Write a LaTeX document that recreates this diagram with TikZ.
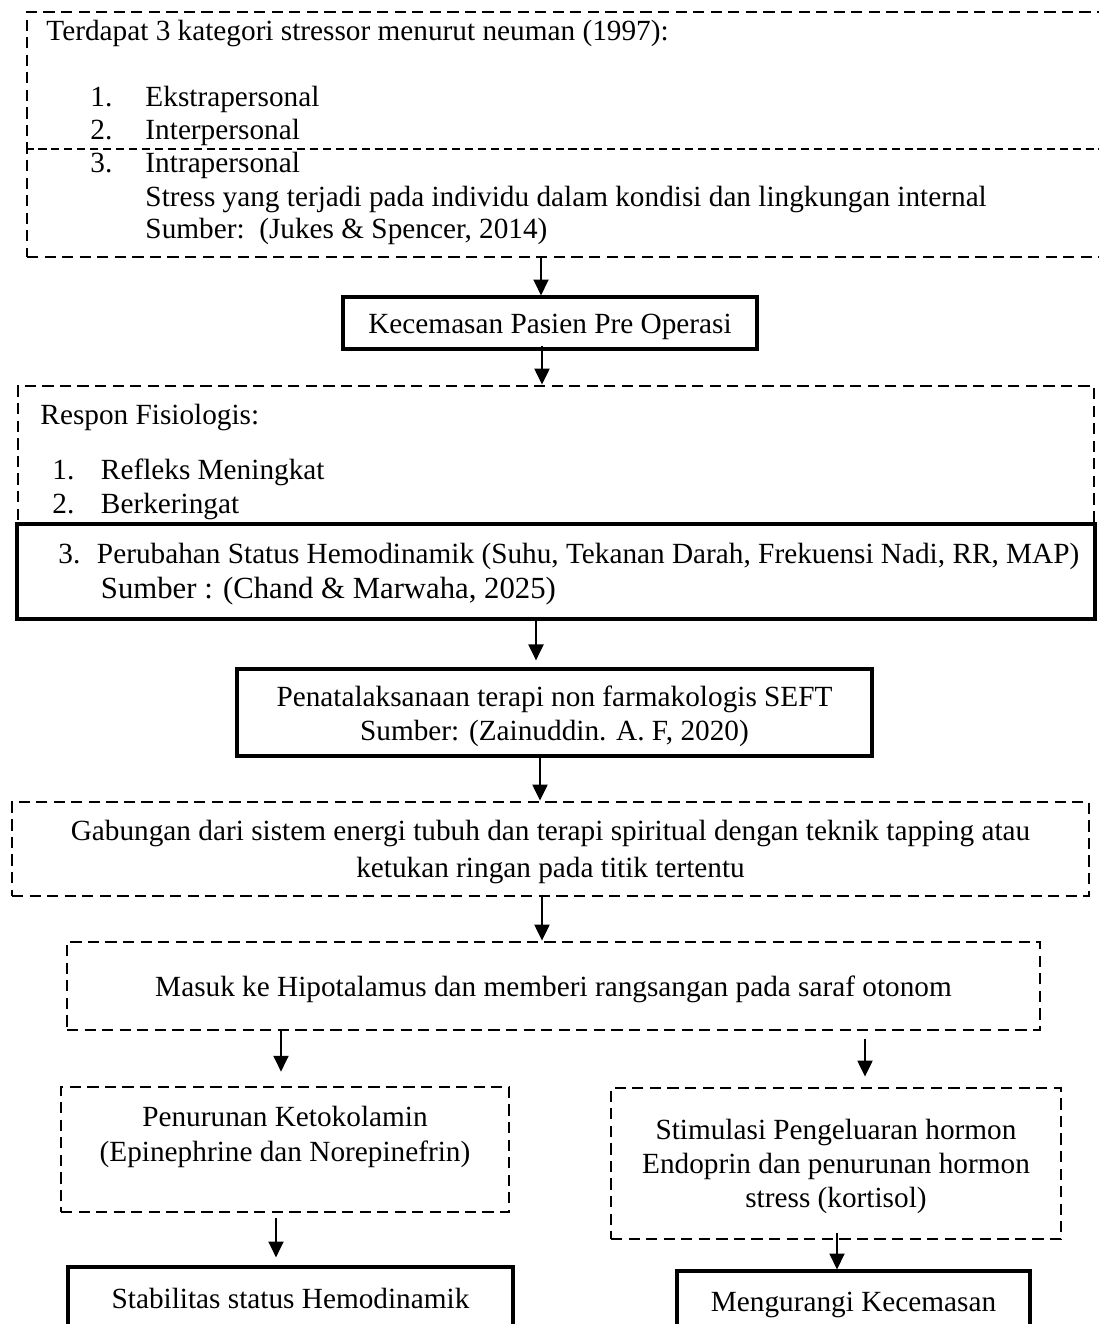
\documentclass[tikz,border=0pt]{standalone}
\usepackage{fontspec}
\setmainfont{Liberation Serif}
\usetikzlibrary{arrows.meta}

\tikzset{
  dbox/.style={draw, line width=1.2pt, dash pattern=on 4.6pt off 2.6pt, align=center},
  sbox/.style={draw, line width=1.3pt, fill=white, align=center},
  sz/.style 2 args={minimum width=#1*0.41pt, minimum height=#2*0.41pt},
  lowtext/.style={text height=9pt, text depth=0pt},
  txt/.style={anchor=base west},
  arr/.style={-{Triangle[length=6.5pt,width=6.2pt]}, line width=0.6pt},
  thinline/.style={line width=0.5pt, dash pattern=on 3.3pt off 2pt}
}

\begin{document}
\begin{tikzpicture}[x=0.41pt, y=-0.41pt, every node/.style={font=\fontsize{12}{14.5}\selectfont, inner sep=0pt}]
    % Canvas
    \useasboundingbox (0,0) rectangle (1099,1324);

    % Stressor box
    \node[dbox, sz={1103}{245}] (stressor) at (578.5,134.5) {};
    \draw[thinline] (stressor.west |- 0,149) -- (stressor.east |- 0,149);
    \node[txt] (st-head) at (46,40) {Terdapat 3 kategori stressor menurut neuman (1997):};
    \node[txt] (st-n1) at (90,106) {1.};
    \node[txt] (st-i1) at (145,106) {Ekstrapersonal};
    \node[txt] (st-n2) at (90,139) {2.};
    \node[txt] (st-i2) at (145,139) {Interpersonal};
    \node[txt] (st-n3) at (90,172) {3.};
    \node[txt] (st-i3) at (145,172) {Intrapersonal};
    \node[txt] (st-desc) at (145,206) {Stress yang terjadi pada individu dalam kondisi dan lingkungan internal};
    \node[txt] (st-src) at (145,238) {Sumber:\ \ (Jukes \& Spencer, 2014)};

    % Kecemasan
    \node[sbox, lowtext, sz={414}{52}] (kecemasan) at (550,323) {Kecemasan Pasien Pre Operasi};

    % Respon fisiologis
    \node[dbox, sz={1076}{184}] (respon) at (556,478) {};
    \node[txt] (re-head) at (40,424) {Respon Fisiologis:};
    \node[txt] (re-n1) at (52,479) {1.};
    \node[txt] (re-i1) at (100.5,479) {Refleks Meningkat};
    \node[txt] (re-n2) at (52,513) {2.};
    \node[txt] (re-i2) at (100.5,513) {Berkeringat};

    % Hemodinamik
    \node[sbox, sz={1078}{95}] (hemo) at (556,571.5) {};
    \node[txt] (he-n3) at (58,563) {3.};
    \node[txt] (he-i3) at (96.5,563) {Perubahan Status Hemodinamik (Suhu, Tekanan Darah, Frekuensi Nadi, RR, MAP)};
    \node[txt, font=\fontsize{12.6}{15}\selectfont] (he-src) at (100.5,598) {Sumber : (Chand \& Marwaha, 2025)};

    % SEFT
    \node[sbox, sz={635}{87}] (seft) at (554.5,712.5) {};
    \node[align=center, font=\fontsize{12}{13.8}\selectfont] (seft-t) at ([yshift=-1.6pt]seft.center)
        {Penatalaksanaan terapi non farmakologis SEFT\\Sumber: (Zainuddin. A. F, 2020)};

    % Gabungan
    \node[dbox, sz={1077}{94}] (gabungan) at (550.5,849) {};
    \node[align=center, font=\fontsize{12}{15.2}\selectfont] (gabungan-t) at ([yshift=-1.1pt]gabungan.center)
        {Gabungan dari sistem energi tubuh dan terapi spiritual dengan teknik tapping atau\\ketukan ringan pada titik tertentu};

    % Hipotalamus
    \node[dbox, lowtext, sz={973}{88}] (hipotal) at (553.5,986) {Masuk ke Hipotalamus dan memberi rangsangan pada saraf otonom};

    % Ketokolamin
    \node[dbox, sz={448}{125}] (ketokol) at (285,1149.5) {};
    \node[align=center] (ketokol-t) at (285,1137) {Penurunan Ketokolamin\\(Epinephrine dan Norepinefrin)};

    % Endorfin
    \node[dbox, sz={450}{151}] (endorfin) at (836,1163.5) {};
    \node[align=center, font=\fontsize{12}{13.8}\selectfont] (endorfin-t) at ([yshift=-1.2pt]endorfin.center)
        {Stimulasi Pengeluaran hormon\\Endoprin dan penurunan hormon\\stress (kortisol)};

    % Hasil
    \node[sbox, sz={445}{63}] (stabil) at (290.5,1298.5) {Stabilitas status Hemodinamik};
    \node[sbox, sz={353}{67}] (kurang) at (853.5,1304.5) {Mengurangi Kecemasan};

    % Arrows
    \draw[arr] (stressor.south -| 541,0) -- (kecemasan.north -| 541,0);
    \draw[arr, shorten <=-2pt] (kecemasan.south -| 542,0) -- (respon.north -| 542,0);
    \draw[arr, shorten >=2.9pt] (hemo.south -| 536,0) -- (seft.north -| 536,0);
    \draw[arr] (seft.south -| 540,0) -- (gabungan.north -| 540,0);
    \draw[arr] (gabungan.south -| 542,0) -- (hipotal.north -| 542,0);
    \draw[arr, shorten >=5.7pt] (hipotal.south -| 281,0) -- (ketokol.north -| 281,0);
    \draw[arr, shorten <=2.9pt, shorten >=4.1pt] (hipotal.south -| 865,0) -- (endorfin.north -| 865,0);
    \draw[arr, shorten <=2pt, shorten >=3.3pt] (ketokol.south -| 276,0) -- (stabil.north -| 276,0);
    \draw[arr, shorten <=-2.9pt] (endorfin.south -| 837,0) -- (kurang.north -| 837,0);
\end{tikzpicture}
\end{document}
